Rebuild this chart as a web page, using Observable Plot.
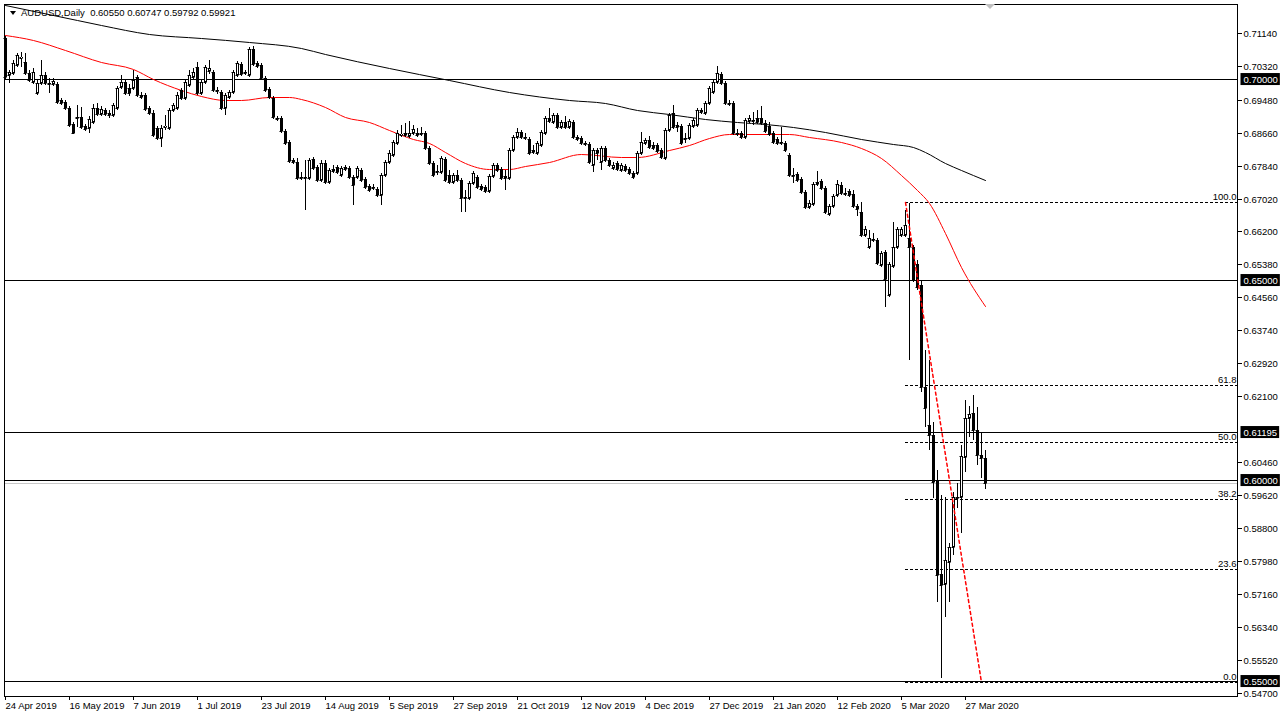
<!DOCTYPE html>
<html><head><meta charset="utf-8">
<script src="https://cdn.jsdelivr.net/npm/d3@7"></script>
<script src="https://cdn.jsdelivr.net/npm/@observablehq/plot@0.6"></script>
<style>
html,body{margin:0;padding:0;background:#fff;overflow:hidden;}
#wrap{position:relative;width:1286px;height:719px;}
</style></head><body><div id="wrap"></div>
<script>
const symbol = "AUDUSD,Daily";
const xLabels = ["24 Apr 2019","16 May 2019","7 Jun 2019","1 Jul 2019","23 Jul 2019","14 Aug 2019","5 Sep 2019","27 Sep 2019","21 Oct 2019","12 Nov 2019","4 Dec 2019","27 Dec 2019","21 Jan 2020","12 Feb 2020","5 Mar 2020","27 Mar 2020"];
const xTickIdx = [0,16,32,48,64,80,96,112,128,144,160,176,192,208,224,240];
const priceTicks = [0.7114,0.7032,0.6948,0.6866,0.6784,0.6702,0.6620,0.6538,0.6456,0.6374,0.6292,0.6210,0.6046,0.5962,0.5880,0.5798,0.5716,0.5634,0.5552,0.5470];
const levelLines = [0.70,0.65,0.61195,0.60,0.55];

const opens = [.7102,.7010,.7015,.7035,.7052,.7042,.7015,.6993,.6965,.6990,
.7010,.6990,.6988,.6988,.6948,.6943,.6928,.6888,.6905,.6905,
.6883,.6878,.6893,.6928,.6913,.6923,.6915,.6910,.6928,.6980,
.6993,.6978,.6978,.7005,.6960,.6960,.6928,.6915,.6878,.6853,
.6880,.6878,.6923,.6928,.6973,.6953,.6985,.7005,.7030,.6965,
.6993,.7020,.7017,.6973,.6968,.6928,.6955,.6968,.7010,.7037,
.7017,.7010,.7075,.7040,.7035,.7002,.6975,.6953,.6903,.6903,
.6870,.6843,.6798,.6793,.6755,.6755,.6753,.6800,.6780,.6748,
.6790,.6743,.6770,.6780,.6760,.6775,.6778,.6755,.6755,.6773,
.6750,.6733,.6730,.6725,.6710,.6760,.6793,.6810,.6840,.6860,
.6860,.6858,.6865,.6860,.6865,.6865,.6828,.6790,.6770,.6768,
.6800,.6760,.6743,.6760,.6748,.6705,.6703,.6740,.6755,.6733,
.6730,.6720,.6758,.6785,.6775,.6753,.6753,.6823,.6855,.6868,
.6855,.6850,.6823,.6815,.6835,.6865,.6903,.6893,.6910,.6880,
.6893,.6880,.6893,.6855,.6853,.6840,.6838,.6785,.6823,.6793,
.6828,.6798,.6778,.6790,.6773,.6783,.6775,.6765,.6765,.6815,
.6840,.6848,.6835,.6835,.6823,.6803,.6873,.6915,.6885,.6883,
.6853,.6853,.6883,.6885,.6918,.6915,.6940,.6968,.6993,.7012,
.6990,.6940,.6940,.6865,.6865,.6855,.6895,.6898,.6903,.6903,
.6890,.6883,.6865,.6850,.6843,.6840,.6810,.6760,.6763,.6750,
.6718,.6681,.6688,.6738,.6745,.6728,.6663,.6683,.6710,.6735,
.6715,.6720,.6713,.6683,.6668,.6611,.6581,.6601,.6599,.6536,
.6569,.6462,.6534,.6581,.6611,.6611,.6604,.6581,.6539,.6487,
.6232,.6138,.6113,.6000,.5766,.5741,.5796,.5833,.5958,.5958,
.6058,.6155,.6167,.6125,.6063,.60550];
const highs = [.7107,.7022,.7047,.7065,.7067,.7065,.7022,.7027,.6998,.7047,
.7017,.7002,.7002,.6993,.6953,.6948,.6933,.6893,.6935,.6930,
.6888,.6908,.6938,.6940,.6933,.6928,.6923,.6940,.6983,.7010,
.6998,.6988,.7022,.7010,.6968,.6965,.6933,.6923,.6883,.6885,
.6910,.6928,.6940,.6968,.6978,.6998,.7022,.7027,.7042,.6998,
.7035,.7047,.7022,.6980,.6973,.6965,.6973,.7022,.7045,.7042,
.7022,.7080,.7082,.7045,.7040,.7007,.6980,.6958,.6908,.6908,
.6875,.6848,.6803,.6803,.6768,.6798,.6803,.6805,.6785,.6798,
.6798,.6778,.6785,.6785,.6783,.6785,.6783,.6760,.6783,.6778,
.6755,.6738,.6738,.6730,.6765,.6798,.6823,.6848,.6873,.6885,
.6890,.6895,.6885,.6878,.6880,.6870,.6833,.6795,.6785,.6808,
.6805,.6773,.6765,.6773,.6753,.6723,.6745,.6770,.6760,.6738,
.6735,.6763,.6790,.6790,.6780,.6773,.6828,.6860,.6878,.6873,
.6865,.6855,.6835,.6845,.6873,.6908,.6928,.6915,.6915,.6898,
.6908,.6900,.6898,.6860,.6858,.6845,.6843,.6828,.6828,.6833,
.6833,.6803,.6793,.6795,.6790,.6788,.6780,.6770,.6820,.6868,
.6853,.6858,.6843,.6840,.6828,.6878,.6915,.6935,.6893,.6888,
.6865,.6890,.6903,.6928,.6928,.6945,.6983,.6998,.7032,.7017,
.6995,.6948,.6945,.6875,.6870,.6903,.6910,.6918,.6923,.6933,
.6898,.6893,.6870,.6855,.6880,.6845,.6815,.6778,.6768,.6755,
.6723,.6698,.6743,.6770,.6750,.6733,.6688,.6713,.6748,.6743,
.6728,.6725,.6723,.6688,.6693,.6634,.6624,.6616,.6604,.6571,
.6574,.6544,.6644,.6631,.6631,.6674,.6691,.6586,.6549,.6499,
.6325,.6300,.6145,.6025,.5963,.5958,.5843,.5970,.5993,.6088,
.6200,.6185,.6212,.6182,.6120,.60747];
const lows = [.7000,.6990,.7010,.7030,.7030,.7010,.6993,.6988,.6960,.6985,
.6985,.6965,.6983,.6938,.6935,.6923,.6880,.6863,.6880,.6875,
.6870,.6865,.6888,.6908,.6908,.6908,.6903,.6905,.6923,.6975,
.6960,.6958,.6973,.6955,.6950,.6920,.6910,.6855,.6848,.6830,
.6873,.6873,.6918,.6923,.6948,.6948,.6980,.7000,.6960,.6960,
.6988,.7012,.6968,.6963,.6923,.6910,.6950,.6963,.7005,.7007,
.7010,.7005,.7032,.7027,.6998,.6968,.6950,.6900,.6895,.6865,
.6835,.6790,.6788,.6748,.6748,.6673,.6748,.6773,.6743,.6743,
.6738,.6738,.6765,.6763,.6755,.6770,.6750,.6686,.6750,.6743,
.6725,.6718,.6723,.6705,.6686,.6755,.6788,.6805,.6835,.6855,
.6855,.6853,.6860,.6855,.6858,.6823,.6785,.6755,.6760,.6763,
.6743,.6738,.6738,.6743,.6668,.6668,.6698,.6735,.6725,.6720,
.6715,.6715,.6753,.6768,.6748,.6723,.6748,.6818,.6850,.6850,
.6848,.6810,.6813,.6810,.6830,.6860,.6890,.6888,.6875,.6875,
.6875,.6875,.6850,.6845,.6835,.6833,.6788,.6768,.6798,.6773,
.6793,.6780,.6773,.6770,.6768,.6768,.6760,.6750,.6760,.6810,
.6835,.6825,.6823,.6815,.6800,.6798,.6868,.6875,.6868,.6835,
.6840,.6848,.6878,.6880,.6913,.6910,.6935,.6963,.6988,.6985,
.6935,.6933,.6860,.6858,.6850,.6850,.6890,.6885,.6888,.6885,
.6865,.6858,.6838,.6835,.6835,.6818,.6755,.6740,.6743,.6713,
.6676,.6676,.6683,.6733,.6723,.6663,.6658,.6678,.6705,.6710,
.6708,.6705,.6678,.6658,.6606,.6606,.6576,.6594,.6536,.6531,
.6432,.6457,.6529,.6576,.6606,.6606,.6300,.6494,.6474,.6220,
.6133,.6075,.5956,.5696,.5506,.5659,.5696,.5813,.5931,.5868,
.6020,.6108,.6100,.6038,.6005,.59792];
const closes = [.7005,.7017,.7040,.7060,.7055,.7015,.6998,.7017,.6990,.7010,
.6990,.6988,.6995,.6943,.6940,.6928,.6885,.6865,.6903,.6880,
.6875,.6900,.6928,.6913,.6925,.6913,.6910,.6935,.6978,.6993,
.6965,.6965,.6998,.6960,.6955,.6925,.6915,.6860,.6853,.6878,
.6883,.6923,.6935,.6960,.6953,.6993,.7010,.7017,.6965,.6993,
.7030,.7027,.6973,.6970,.6928,.6960,.6968,.7017,.7040,.7012,
.7015,.7075,.7037,.7032,.7002,.6973,.6955,.6905,.6900,.6870,
.6840,.6795,.6793,.6753,.6753,.6753,.6798,.6778,.6748,.6790,
.6743,.6773,.6775,.6768,.6778,.6780,.6755,.6735,.6778,.6748,
.6730,.6723,.6728,.6710,.6760,.6793,.6815,.6843,.6865,.6863,
.6865,.6865,.6875,.6865,.6863,.6828,.6790,.6760,.6768,.6803,
.6748,.6743,.6760,.6748,.6703,.6703,.6740,.6765,.6730,.6725,
.6720,.6758,.6785,.6773,.6753,.6758,.6823,.6855,.6868,.6855,
.6853,.6815,.6818,.6840,.6868,.6903,.6895,.6910,.6880,.6893,
.6880,.6895,.6855,.6850,.6840,.6838,.6793,.6823,.6815,.6828,
.6798,.6785,.6785,.6775,.6785,.6773,.6765,.6755,.6815,.6843,
.6848,.6830,.6828,.6820,.6805,.6873,.6910,.6880,.6880,.6840,
.6850,.6885,.6898,.6923,.6923,.6940,.6978,.6993,.7015,.6990,
.6940,.6938,.6865,.6863,.6855,.6898,.6903,.6895,.6893,.6890,
.6870,.6863,.6843,.6840,.6840,.6823,.6760,.6758,.6748,.6718,
.6681,.6691,.6738,.6743,.6728,.6668,.6683,.6708,.6738,.6715,
.6713,.6710,.6683,.6676,.6611,.6626,.6604,.6599,.6541,.6566,
.6501,.6539,.6581,.6626,.6626,.6636,.6581,.6499,.6482,.6232,
.6180,.6113,.5995,.5763,.5739,.5801,.5833,.5958,.5956,.6060,
.6155,.6165,.6125,.6063,.6055,.59921];

// moving averages (bar index, value)
const ma200Idx = [0,18,24,36,49,61,74,80,96,111,126,141,150,158,166,175,183,190,197,205,214,222,227,230,235,239,245];
const ma200Val = [0.7184,0.7147,0.7135,0.7112,0.7102,0.7092,0.7077,0.7062,0.7027,0.6998,0.6968,0.6948,0.6940,0.6923,0.6913,0.6900,0.6893,0.6889,0.6880,0.6868,0.6851,0.6838,0.6831,0.6818,0.6791,0.6773,0.6748];
const ma50Idx = [0,7,15,24,32,37,44,49,55,59,66,71,74,80,85,91,96,102,106,110,115,121,126,130,136,144,154,158,166,171,176,181,191,196,201,209,214,219,224,228,231,235,239,245];
const ma50Val = [0.7110,0.7097,0.7072,0.7042,0.7025,0.7000,0.6973,0.6958,0.6948,0.6948,0.6955,0.6955,0.6950,0.6930,0.6905,0.6893,0.6873,0.6851,0.6841,0.6818,0.6791,0.6776,0.6776,0.6783,0.6793,0.6813,0.6806,0.6806,0.6823,0.6836,0.6853,0.6863,0.6863,0.6863,0.6856,0.6843,0.6828,0.6803,0.6761,0.6723,0.6691,0.6616,0.6532,0.6434];

// Fibonacci retracement
const fibLevels = [0, 23.6, 38.2, 50, 61.8, 100];
const fibLabels = ["0.0","23.6","38.2","50.0","61.8","100.0"];
const fibHigh = 0.6694, fibLow = 0.5497;
const fibStartIdx = 225, fibEndIdx = 244;

const X_MIN = -0.25, X_MAX = 308;
const candles = opens.map((o,i)=>({i, o, h:highs[i], l:lows[i], c:closes[i]}));
const bulls = candles.filter(d=>d.c>d.o);
const ma200 = ma200Idx.map((i,k)=>({i, v:ma200Val[k]}));
const ma50 = ma50Idx.map((i,k)=>({i, v:ma50Val[k]}));
const fibs = fibLevels.map((lv,k)=>({p: fibLow + lv/100*(fibHigh-fibLow), label: fibLabels[k]}));
const trend = [{i:fibStartIdx, p:fibHigh},{i:fibEndIdx, p:fibLow}];
const last = candles[candles.length-1];
const tickLabel = new Map(xTickIdx.map((t,k)=>[t,xLabels[k]]));

const FONT = "Liberation Sans, Arial, sans-serif";
const chart = Plot.plot({
  width: 1286, height: 719,
  marginLeft: 4, marginRight: 49, marginTop: 4, marginBottom: 23,
  x: {domain: [X_MIN, X_MAX], axis: null},
  y: {domain: [0.54622, 0.71870], axis: null, round: true},
  style: {fontFamily: FONT, fontSize: "9.5px", color: "#000", background: "#fff", overflow: "visible"},
  marks: [
    Plot.ruleY([last.c], {stroke: "#c8c8c8"}),
    Plot.ruleY(levelLines, {stroke: "#000"}),
    Plot.ruleY(fibs, {y: "p", x1: ()=>fibStartIdx, x2: ()=>X_MAX, stroke: "#000", strokeDasharray: "3,2"}),
    Plot.text(fibs, {y: "p", text: "label", frameAnchor: "right", textAnchor: "end", lineAnchor: "bottom", dx: -1, dy: -3, fill: "#000"}),
    Plot.line(ma200, {x: "i", y: "v", stroke: "#000", strokeWidth: 1, curve: "monotone-x"}),
    Plot.line(ma50, {x: "i", y: "v", stroke: "#ff0000", strokeWidth: 1, curve: "monotone-x"}),
    Plot.ruleX(candles, {x: "i", y1: "l", y2: "h", stroke: "#000", strokeWidth: 1}),
    Plot.ruleX(candles, {x: "i", y1: "o", y2: "c", stroke: "#000", strokeWidth: 3}),
    Plot.ruleY(candles, {y: "o", x1: d=>d.i-0.375, x2: d=>d.i+0.375, stroke: "#000"}),
    Plot.ruleY(candles, {y: "c", x1: d=>d.i-0.375, x2: d=>d.i+0.375, stroke: "#000"}),
    Plot.ruleX(bulls, {x: "i", y1: "c", y2: "o", stroke: "#fff", strokeWidth: 1, insetTop: 1, insetBottom: 1}),
    Plot.line(trend, {x: "i", y: "p", stroke: "#ff0000", strokeDasharray: "3,3"}),
    Plot.frame({stroke: "#000"}),
    Plot.axisY(priceTicks, {anchor: "right", tickSize: 4, tickPadding: 2, tickFormat: d=>d.toFixed(5), label: null}),
    Plot.text(levelLines, {y: d=>d, text: d=>d.toFixed(5), frameAnchor: "right", textAnchor: "start", dx: 6, fill: "#fff"}),
    Plot.axisX(xTickIdx, {anchor: "bottom", tickSize: 4, tickPadding: 2, textAnchor: "start", tickFormat: d=>tickLabel.get(d), label: null})
  ]
});
document.getElementById("wrap").append(chart);

const svg = d3.select(chart);
// black boxes behind the white level labels
svg.selectAll("g").filter(function(){ return this.getAttribute("aria-label")==="text" && this.getAttribute("fill")==="#fff"; })
  .selectAll("text").each(function(){
    const b = this.getBBox();
    d3.select(this.parentNode).insert("rect", ()=>this)
      .attr("transform", this.getAttribute("transform"))
      .attr("x", b.x-3).attr("y", b.y-0.5).attr("width", b.width+5).attr("height", b.height+1)
      .attr("fill", "#000");
  });
// header
const hdr = svg.append("g").attr("font-family", FONT).attr("font-size", "9.5px").attr("text-anchor", "start");
hdr.append("path").attr("d", "M10,11L16,11L13,15Z").attr("fill", "#000");
hdr.append("text").attr("x", 21).attr("y", 16).attr("text-anchor", "start").style("white-space", "pre")
  .text(`${symbol}  ${last.o.toFixed(5)} ${last.h.toFixed(5)} ${last.l.toFixed(5)} ${last.c.toFixed(5)}`);
// chart shift marker
hdr.append("path").attr("d", "M985,4L995,4L990,9Z").attr("fill", "#c0c0c0");
</script></body></html>
